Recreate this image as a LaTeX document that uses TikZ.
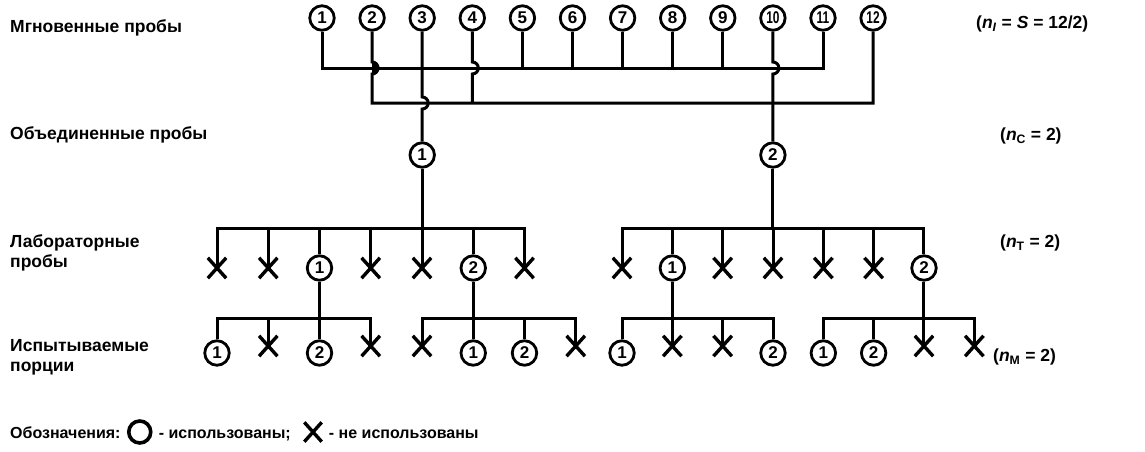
\documentclass[tikz,border=0pt]{standalone}
\usepackage{fontspec}
\usepackage{graphicx}
\setmainfont{Liberation Sans}
\usetikzlibrary{shapes.misc,positioning}
\newcommand{\narrow}[1]{\scalebox{0.7}[1]{#1}}
\begin{document}
\begin{tikzpicture}[x=1pt,y=-1pt,
  wire/.style={line width=3pt},
  digit/.style={font=\bfseries\fontsize{17}{17}\selectfont},
  smp/.style={circle, draw, line width=2.8pt, minimum size=24.5pt, inner sep=0pt, digit},
  xmark/.style={cross out, draw, line width=3.4pt, minimum width=15pt,
                minimum height=17pt, inner sep=0pt},
  lbl/.style={anchor=west, inner sep=0pt, align=left,
              font=\bfseries\fontsize{17.5}{20}\selectfont},
  legtext/.style={inner sep=0pt, anchor=base west,
                  font=\bfseries\fontsize{16}{20}\selectfont},
]
\useasboundingbox (0,0) rectangle (1145,451);

% ---- row labels ----
\node[lbl] (r1) at (10,28) {Мгновенные пробы};
\node[lbl] (r2) at (10,135) {Объединенные пробы};
\node[lbl] (r3) at (10,253) {Лабораторные\\пробы};
\node[lbl] (r4) at (10,357) {Испытываемые\\порции};
\node[lbl] (q1) at (976,24) {(\textit{n}\textsubscript{\textit{I}} = \textit{S} = 12/2)};
\node[lbl] (q2) at (1000,136) {(\textit{n}\textsubscript{C} = 2)};
\node[lbl] (q3) at (1000,243) {(\textit{n}\textsubscript{T} = 2)};
\node[lbl] (q4) at (993,357) {(\textit{n}\textsubscript{M} = 2)};

% ---- increments ----
\foreach \i in {1,...,9}
  \node[smp] (t\i) at ({322+50.1*(\i-1)},18) {\i};
\node[smp] (t10) at ({322+50.1*9},18) {\narrow{10}};
\node[smp] (t11) at ({322+50.1*10},18) {\narrow{11}};
\node[smp] (t12) at ({322+50.1*11},18) {\narrow{12}};

% ---- composite samples ----
\node[smp] (c1) at (t3 |- 0,155) {1};
\node[smp] (c2) at (t10 |- 0,155) {2};

% first collecting line (y = 68)
\draw[wire] (t1) |- (t11 |- 0,68) -- (t11);
\foreach \i in {5,6,7,8,9}
  \draw[wire] (t\i) -- (t\i |- 0,68);
% second collecting line (y = 103)
\draw[wire] (t2) -- (t2 |- 0,62) arc[start angle=-90, end angle=90, radius=6]
  -- (t2 |- 0,103) -- (t12 |- 0,103) -- (t12);
\fill (t2 |- 0,62) arc[start angle=-90, end angle=90, radius=6] -- cycle;
\draw[wire] (t4) -- (t4 |- 0,62) arc[start angle=-90, end angle=90, radius=6]
  -- (t4 |- 0,103);
% feeds to the composite samples
\draw[wire] (t3) -- (t3 |- 0,97) arc[start angle=-90, end angle=90, radius=6]
  -- (c1);
\draw[wire] (t10) -- (t10 |- 0,62) arc[start angle=-90, end angle=90, radius=6]
  -- (c2);

% ---- laboratory samples ----
\foreach \k/\kind/\lab in {0/xmark/a1,1/xmark/a2,2/smp/a3,3/xmark/a4,4/xmark/a5,5/smp/a6,6/xmark/a7}
  \node[\kind] (\lab) at ({217+51.25*\k},268) {};
\node[digit, inner sep=0pt] at (a3) {1};
\node[digit, inner sep=0pt] at (a6) {2};
\foreach \k/\kind/\lab in {0/xmark/b1,1/smp/b2,2/xmark/b3,3/xmark/b4,4/xmark/b5,5/xmark/b6,6/smp/b7}
  \node[\kind] (\lab) at ({622+50.33*\k},268) {};
\node[digit, inner sep=0pt] at (b2) {1};
\node[digit, inner sep=0pt] at (b7) {2};

\draw[wire] (c1) -- (c1 |- 0,228);
\draw[wire] (a1.center) |- (a7 |- 0,228) -- (a7.center);
\foreach \lab in {a2,a4,a5} \draw[wire] (\lab.center) -- (\lab |- 0,228);
\foreach \lab in {a3,a6} \draw[wire] (\lab) -- (\lab |- 0,228);

\draw[wire] (c2) -- (c2 |- 0,228);
\draw[wire] (b1.center) |- (b7 |- 0,228) -- (b7);
\foreach \lab in {b3,b4,b5,b6} \draw[wire] (\lab.center) -- (\lab |- 0,228);
\draw[wire] (b2) -- (b2 |- 0,228);

% ---- test portions ----
% group under laboratory sample a3
\node[smp] (p1) at (a1 |- 0,353) {1};
\node[xmark] (p2) at (a2 |- 0,346) {};
\node[smp] (p3) at (a3 |- 0,353) {2};
\node[xmark] (p4) at (a4 |- 0,346) {};
\draw[wire] (p1) |- (p4 |- 0,318) -- (p4.center);
\draw[wire] (p2.center) -- (p2 |- 0,318);
\draw[wire] (a3) -- (p3);
% group under laboratory sample a6
\node[xmark] (p5) at (a5 |- 0,346) {};
\node[smp] (p6) at (a6 |- 0,353) {1};
\node[smp] (p7) at (a7 |- 0,353) {2};
\node[xmark] (p8) at ({217+51.25*7},346) {};
\draw[wire] (p5.center) |- (p8 |- 0,318) -- (p8.center);
\draw[wire] (p7) -- (p7 |- 0,318);
\draw[wire] (a6) -- (p6);
% group under laboratory sample b2
\node[smp] (p9) at (b1 |- 0,353) {1};
\node[xmark] (p10) at (b2 |- 0,346) {};
\node[xmark] (p11) at (b3 |- 0,346) {};
\node[smp] (p12) at (b4 |- 0,353) {2};
\draw[wire] (p9) |- (p12 |- 0,318) -- (p12);
\draw[wire] (p11.center) -- (p11 |- 0,318);
\draw[wire] (b2) -- (p10.center);
% group under laboratory sample b7
\node[smp] (p13) at (b5 |- 0,353) {1};
\node[smp] (p14) at (b6 |- 0,353) {2};
\node[xmark] (p15) at (b7 |- 0,346) {};
\node[xmark] (p16) at ({622+50.33*7},346) {};
\draw[wire] (p13) |- (p16 |- 0,318) -- (p16.center);
\draw[wire] (p14) -- (p14 |- 0,318);
\draw[wire] (b7) -- (p15.center);

% ---- legend ----
\node[legtext] (lg1) at (10,438) {Обозначения:};
\node[circle, draw, line width=3.6pt, minimum size=22pt, inner sep=0pt]
  (lgc) at ([xshift=19pt]lg1.base east |- 0,432) {};
\node[legtext] (lg2) at ([xshift=6pt]lgc.east |- lg1.base) {- использованы;};
\node[xmark, minimum width=14pt, minimum height=16pt]
  (lgx) at ([xshift=22pt]lg2.base east |- 0,432) {};
\node[legtext] (lg3) at ([xshift=7pt]lgx.east |- lg1.base) {- не использованы};
\end{tikzpicture}
\end{document}
